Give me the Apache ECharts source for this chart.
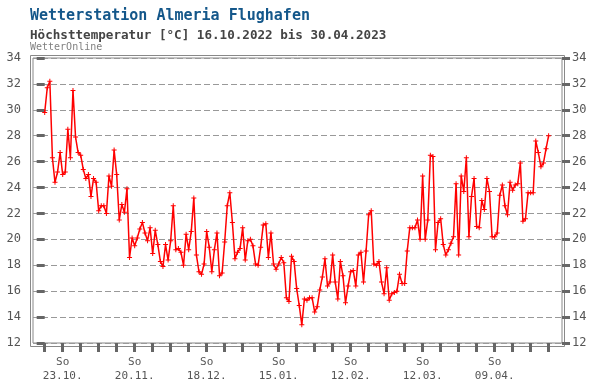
<!DOCTYPE html>
<html>
<head>
<meta charset="utf-8">
<script src="https://cdn.jsdelivr.net/npm/echarts@6/dist/echarts.min.js"></script>
<style>
html,body{margin:0;padding:0;background:#fff;}
#c{width:596px;height:383px;}
</style>
</head>
<body>
<div id="c"></div>
<script>
// ---- data ----
const values = [
29.8,31.7,32.2,26.3,24.4,25.2,26.7,25.0,25.2,28.5,
26.3,31.5,27.9,26.7,26.5,25.4,24.7,25.0,23.3,24.7,
24.4,22.2,22.6,22.6,22.0,24.9,24.1,26.9,25.0,21.5,
22.7,22.1,23.9,18.6,20.1,19.5,20.1,20.8,21.3,20.5,
19.9,20.9,18.9,20.7,19.6,18.3,17.9,19.6,18.4,19.9,
22.6,19.2,19.3,19.0,18.0,20.4,19.2,20.6,23.2,18.8,
17.5,17.3,18.1,20.6,19.4,17.5,19.2,20.5,17.2,17.4,
19.8,22.6,23.6,21.3,18.5,19.0,19.3,20.9,18.4,19.9,
20.0,19.5,18.1,18.0,19.4,21.1,21.2,18.6,20.5,18.1,
17.7,18.1,18.6,18.2,15.5,15.2,18.7,18.3,16.2,14.9,
13.4,15.4,15.3,15.5,15.5,14.4,14.8,16.1,17.1,18.5,
16.4,16.7,18.8,16.7,15.4,18.3,17.2,15.1,16.4,17.5,
17.6,16.4,18.8,19.0,16.7,19.1,21.9,22.2,18.1,18.0,
18.3,16.7,15.8,17.8,15.3,15.8,15.9,16.0,17.3,16.6,
16.6,19.1,20.9,20.9,20.9,21.5,20.0,24.9,20.0,21.5,
26.5,26.4,19.2,21.3,21.6,19.6,18.8,19.2,19.7,20.2,
24.3,18.8,24.9,23.7,26.3,20.2,23.3,24.7,21.0,20.9,
23.0,22.3,24.7,23.7,20.2,20.2,20.5,23.4,24.2,22.6,
21.9,24.4,23.8,24.2,24.3,25.9,21.4,21.6,23.6,23.6,
23.6,27.6,26.7,25.6,25.9,27.0,28.0
];
const weekTickDays = [0,7,14,21,28,35,42,49,56,63,70,77,84,91,98,105,112,119,126,133,140,147,154,161,168,175,182,189,196];
const labelDays = [7,35,63,91,119,147,175];
const labelTexts = ['23.10.','20.11.','18.12.','15.01.','12.02.','12.03.','09.04.'];

const seriesData = values.map((v,i)=>[i,v]);
const MONO = '"DejaVu Sans Mono", monospace';

const chart = echarts.init(document.getElementById('c'), null, {renderer:'canvas'});

const yAxisCommon = {
  type:'value', min:12, max:34, interval:2,
  axisLine:{show:false},
  axisTick:{show:true, length:8, lineStyle:{color:'#666', width:3}},
  splitLine:{show:false}
};

chart.setOption({
  animation:false,
  backgroundColor:'#fff',
  title:[
    {text:'Wetterstation Almeria Flughafen', left:30, top:9, padding:0,
     textStyle:{fontFamily:MONO, fontSize:15, fontWeight:'bold', color:'#14578a'}},
    {text:'Höchsttemperatur [°C] 16.10.2022 bis 30.04.2023', left:30, top:29, padding:0,
     textStyle:{fontFamily:MONO, fontSize:12.6, fontWeight:'bold', color:'#444'}},
    {text:'WetterOnline', left:30, top:42, padding:0,
     textStyle:{fontFamily:MONO, fontSize:10, fontWeight:'normal', color:'#808080'}}
  ],
  graphic:[{
    type:'rect', silent:true, z:-1,
    shape:{x:30.5, y:55.5, width:534, height:291},
    style:{fill:null, stroke:'#888', lineWidth:1}
  }],
  grid:{left:33, right:34, top:58, bottom:39, show:true, borderColor:'#888', borderWidth:1},
  xAxis:{
    type:'value', min:-4.55, max:201.2,
    axisLine:{show:false},
    splitLine:{show:false},
    axisTick:{show:true, customValues:weekTickDays, length:9, lineStyle:{color:'#666', width:3}},
    axisLabel:{customValues:labelDays, color:'#555', fontFamily:MONO, fontSize:11, lineHeight:14, margin:12,
      formatter:function(v){ const k = labelDays.indexOf(Math.round(v)); return k>=0 ? 'So\n'+labelTexts[k] : ''; }}
  },
  yAxis:[
    Object.assign({}, yAxisCommon, {position:'left',
      axisLabel:{color:'#555', fontFamily:MONO, fontSize:12, margin:12},
      splitLine:{show:true, lineStyle:{color:'#999', type:[6,3], width:1}}}),
    Object.assign({}, yAxisCommon, {position:'right',
      axisLabel:{color:'#555', fontFamily:MONO, fontSize:12, margin:10}})
  ],
  series:[{
    type:'line', data:seriesData,
    lineStyle:{color:'#ff0000', width:1.5},
    itemStyle:{color:'#ff0000'},
    symbol:'path://M2,0H3V2H5V3H3V5H2V3H0V2H2Z', symbolSize:5,
    showSymbol:true, showAllSymbol:true
  }]
});
</script>
</body>
</html>
